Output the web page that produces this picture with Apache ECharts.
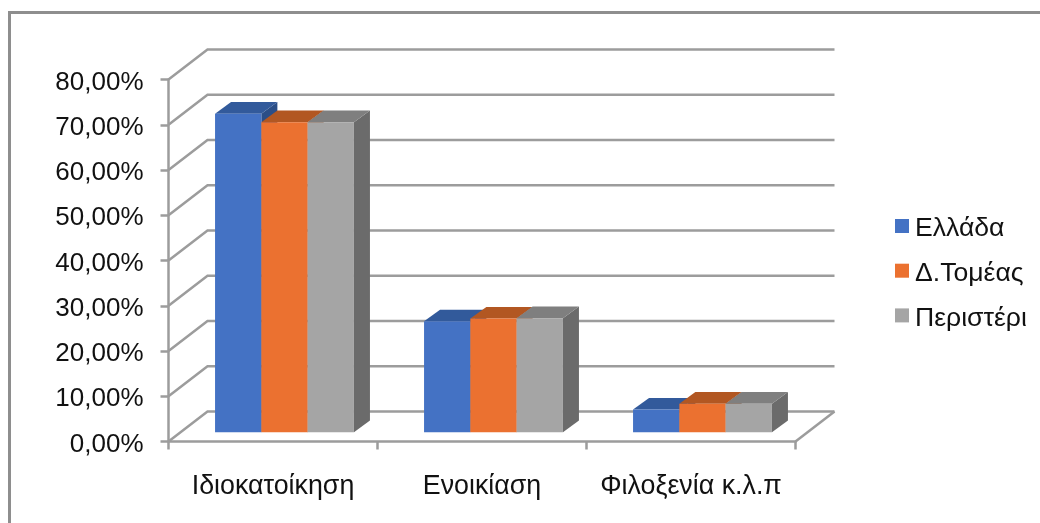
<!DOCTYPE html>
<html>
<head>
<meta charset="utf-8">
<script src="https://cdn.jsdelivr.net/npm/echarts@6/dist/echarts.min.js"></script>
<style>html,body{margin:0;padding:0;background:#fff}#c{width:1040px;height:523px}</style>
</head>
<body>
<div id="c"></div>
<script>
const categories = ['Ιδιοκατοίκηση', 'Ενοικίαση', 'Φιλοξενία κ.λ.π'];
const seriesNames = ['Ελλάδα', 'Δ.Τομέας', 'Περιστέρι'];
const ellada = [70.4, 24.5, 5.0];
const dTomeas = [68.5, 25.1, 6.3];
const peristeri = [68.5, 25.2, 6.3];
const yTicks = [0, 10, 20, 30, 40, 50, 60, 70, 80];

const front = ['#4472C4', '#EB7130', '#A5A5A5'];
const top3d = ['#325A9B', '#B25722', '#7F7F7F'];
const side3d = ['#2B4E87', '#9A4B1E', '#6B6B6B'];
const lineColor = '#9C9C9C';
const WALL_DX = 39, WALL_DY = -30;
const BAR_DX = 16, BAR_DY = -11.7, BAR_OFF_X = 11.5, BAR_OFF_Y = -9.3;
const BAR_FRAC = 46.3 / 209;

function barSeries(name, values, idx) {
  return {
    type: 'custom', name, z: 3 + idx,
    itemStyle: { color: front[idx] },
    data: values.map((v, i) => [i, v]),
    encode: { x: 0, y: 1 },
    renderItem(params, api) {
      const c = api.coord([api.value(0), api.value(1)]);
      const base = api.coord([api.value(0), 0]);
      const w = api.size([1, 0])[0] * BAR_FRAC;
      const l = c[0] + BAR_OFF_X + (idx - 1.5) * w;
      const r = l + w;
      const t = c[1] + BAR_OFF_Y;
      const b = base[1] + BAR_OFF_Y;
      return {
        type: 'group',
        children: [
          { type: 'polygon', shape: { points: [[r, t], [r + BAR_DX, t + BAR_DY], [r + BAR_DX, b + BAR_DY], [r, b]] }, style: { fill: side3d[idx] } },
          { type: 'polygon', shape: { points: [[l, t], [l + BAR_DX, t + BAR_DY], [r + BAR_DX, t + BAR_DY], [r, t]] }, style: { fill: top3d[idx] } },
          { type: 'rect', shape: { x: l, y: t, width: w, height: b - t }, style: { fill: front[idx] } }
        ]
      };
    }
  };
}

const chart = echarts.init(document.getElementById('c'), null, { renderer: 'canvas' });
const font = '"Liberation Sans", Arial, sans-serif';
chart.setOption({
  animation: false,
  backgroundColor: '#fff',
  grid: { left: 168.5, top: 79.5, width: 627, height: 362, containLabel: false },
  graphic: [
    { type: 'polyline', z: 0, shape: { points: [[9.5, 523], [9.5, 12.5], [1040, 12.5]] }, style: { stroke: '#8E8E8E', lineWidth: 3, fill: null } }
  ],
  legend: {
    orient: 'vertical', left: 890, top: 210.5, itemWidth: 14, itemHeight: 14, itemGap: 17.7, icon: 'rect',
    selectedMode: false,
    formatter: name => '{a|' + name + '}',
    textStyle: { rich: { a: { fontFamily: font, fontSize: 26.6, color: '#111', padding: [6, 0, 0, 1] } } },
    data: seriesNames.map(n => ({ name: n, icon: 'rect' }))
  },
  xAxis: {
    type: 'category', data: categories,
    axisLine: { show: true, lineStyle: { color: lineColor, width: 2.5 } },
    axisTick: { show: true, length: 8, interval: 0, alignWithLabel: false, lineStyle: { color: lineColor, width: 2.5 } },
    axisLabel: { fontFamily: font, fontSize: 26.8, color: '#111', margin: 32, interval: 0, hideOverlap: false },
    splitLine: { show: false }
  },
  yAxis: {
    type: 'value', min: 0, max: 80, interval: 10,
    axisLine: { show: true, lineStyle: { color: lineColor, width: 2.5 } },
    axisTick: { show: true, length: 8, lineStyle: { color: lineColor, width: 2.5 } },
    axisLabel: {
      margin: 25,
      formatter: v => '{a|' + v.toFixed(2).replace('.', ',') + '%}',
      rich: { a: { fontFamily: font, fontSize: 26, color: '#111', padding: [6, 0, 0, 0] } }
    },
    splitLine: { show: false }
  },
  series: [
    {
      type: 'custom', name: 'wall', silent: true, z: 1,
      data: yTicks.map(v => [0, v]),
      encode: { x: 0, y: 1 },
      renderItem(params, api) {
        const v = api.value(1);
        const y = api.coord([0, v])[1];
        const cs = params.coordSys;
        const x0 = cs.x, x1 = cs.x + cs.width;
        const style = { stroke: lineColor, lineWidth: 2.5, fill: null };
        const children = [{ type: 'polyline', shape: { points: [[x0, y], [x0 + WALL_DX, y + WALL_DY], [x1 + WALL_DX, y + WALL_DY]] }, style }];
        if (v === 0) children.push({ type: 'line', shape: { x1: x1, y1: y, x2: x1 + WALL_DX, y2: y + WALL_DY }, style });
        return { type: 'group', children };
      }
    },
    barSeries(seriesNames[0], ellada, 0),
    barSeries(seriesNames[1], dTomeas, 1),
    barSeries(seriesNames[2], peristeri, 2)
  ]
});
</script>
</body>
</html>
